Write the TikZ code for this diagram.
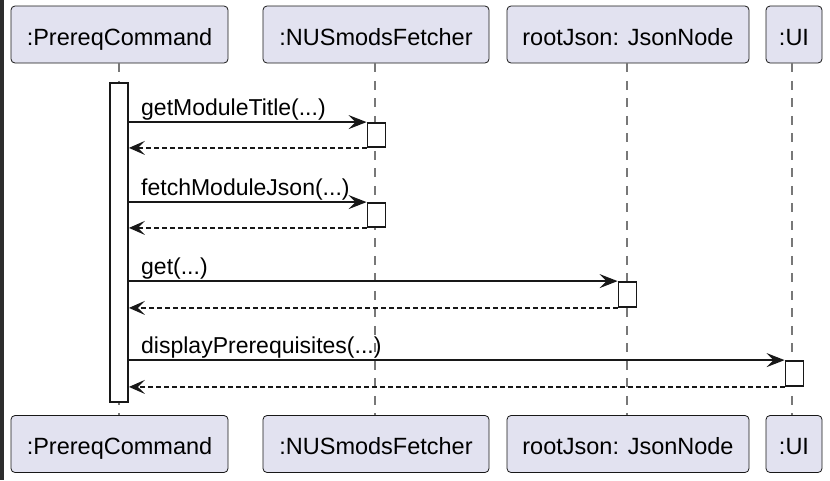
\documentclass[tikz,border=0pt]{standalone}
\usepackage{fontspec}
\setmainfont{Liberation Sans}
\usepackage{tikz}
\usetikzlibrary{arrows.meta, positioning, calc}
\definecolor{boxFill}{RGB}{226, 226, 240}
\definecolor{lineDark}{RGB}{24, 24, 24}
\definecolor{lifeGray}{RGB}{120, 120, 120}
\definecolor{edgeDark}{RGB}{45, 45, 45}

\begin{document}
\begin{tikzpicture}[x=1pt, y=-1pt,
    participant/.style={draw=lineDark, line width=0.8pt, fill=boxFill, rounded corners=4pt,
        minimum height=57pt, inner sep=0pt, text height=21pt, text depth=0pt,
        font=\fontsize{23.5}{28}\selectfont},
    lifeline/.style={draw=lifeGray, line width=1.2pt, dash pattern=on 8.75pt off 8.75pt},
    actbox/.style={draw=lineDark, line width=1.8pt, fill=white, minimum width=18pt, inner sep=0pt},
    call/.style={draw=lineDark, line width=1.5pt, -{Stealth[length=18pt, width=14pt, inset=7pt]}},
    ret/.style={draw=lineDark, line width=1.3pt, dash pattern=on 5pt off 3pt, -{Stealth[length=16pt, width=14pt, inset=7pt]}},
    msglabel/.style={anchor=base west, inner sep=0pt, font=\fontsize{23}{28}\selectfont}]
    \useasboundingbox (0,0) rectangle (830,480);
    % dark edge of the screenshot
    \fill[edgeDark] (0,0) rectangle (4,480);

    % Participants (top row)
    \node[participant, minimum width=217pt] (cmd) at (119.5,34.5) {:PrereqCommand};
    \node[participant, minimum width=226pt] (fetch) at (376,34.5) {:NUSmodsFetcher};
    \node[participant, minimum width=242pt] (root) at (628,34.5) {rootJson: JsonNode};
    \node[participant, minimum width=56pt] (ui) at (794,34.5) {:UI};

    % Participants (bottom row)
    \node[participant, minimum width=217pt] (cmdB) at (119.5,444) {:PrereqCommand};
    \node[participant, minimum width=226pt] (fetchB) at (376,444) {:NUSmodsFetcher};
    \node[participant, minimum width=242pt] (rootB) at (628,444) {rootJson: JsonNode};
    \node[participant, minimum width=56pt] (uiB) at (794,444) {:UI};

    % Lifelines
    \draw[lifeline] (cmd.south -| 119,0) -- (cmdB.north -| 119,0);
    \draw[lifeline] (fetch.south -| 375,0) -- (fetchB.north -| 375,0);
    \draw[lifeline] (root.south -| 627,0) -- (rootB.north -| 627,0);
    \draw[lifeline] (ui.south -| 792,0) -- (uiB.north -| 792,0);

    % Activation bars
    \node[actbox, minimum height=319pt] (act) at (119,242.5) {};
    \node[actbox, minimum height=24pt] (a1) at (376.5,135) {};
    \node[actbox, minimum height=24pt] (a2) at (376.5,215) {};
    \node[actbox, minimum height=25pt] (a3) at (627.5,294.5) {};
    \node[actbox, minimum height=25pt] (a4) at (794.5,373.5) {};

    % Messages
    \draw[call] (act.east |- a1.north) -- (a1.north west);
    \draw[ret] (a1.south west) -- (act.east |- a1.south);
    \node[msglabel] (l1) at (141,115) {getModuleTitle(...)};

    \draw[call] (act.east |- a2.north) -- (a2.north west);
    \draw[ret] (a2.south west) -- (act.east |- a2.south);
    \node[msglabel] (l2) at (141,195) {fetchModuleJson(...)};

    \draw[call] (act.east |- a3.north) -- (a3.north west);
    \draw[ret] (a3.south west) -- (act.east |- a3.south);
    \node[msglabel] (l3) at (141,274) {get(...)};

    \draw[call] (act.east |- a4.north) -- (a4.north west);
    \draw[ret] (a4.south west) -- (act.east |- a4.south);
    \node[msglabel] (l4) at (141,353) {displayPrerequisites(...)};
\end{tikzpicture}
\end{document}
